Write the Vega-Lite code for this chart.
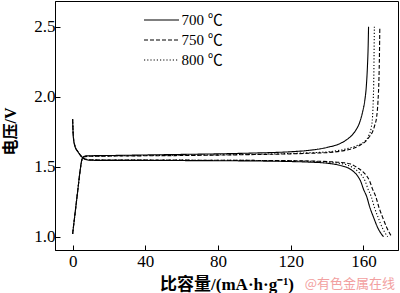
{
"$schema": "https://vega.github.io/schema/vega-lite/v6.json",
"width": 343,
"height": 249,
"autosize": {"type": "none"},
"padding": {"left": 55, "top": 1, "right": 2, "bottom": 43},
"background": "white",
"config": {
  "view": {"stroke": "#000", "strokeWidth": 1},
  "font": "Liberation Serif",
  "axis": {"grid": false, "domainColor": "#000", "tickColor": "#000", "tickSize": -5, "labelColor": "#000", "labelFont": "Liberation Serif", "labelFontSize": 17, "titleColor": "#000", "titleFont": "Liberation Serif, Noto Sans CJK SC", "titleFontSize": 17, "titleFontWeight": "bold"}
},
"title": {"text": "@有色金属在线", "orient": "bottom", "anchor": "end", "frame": "group", "color": "#f2a0a0", "fontSize": 13, "font": "Noto Sans CJK SC", "fontWeight": "normal", "offset": -14, "dx": -3},
"data": {"values": [
{"t":"700 ℃","c":"charge","x":0,"y":1.02},{"t":"700 ℃","c":"charge","x":1,"y":1.13},{"t":"700 ℃","c":"charge","x":2,"y":1.24},{"t":"700 ℃","c":"charge","x":3,"y":1.35},{"t":"700 ℃","c":"charge","x":4,"y":1.46},{"t":"700 ℃","c":"charge","x":5,"y":1.545},{"t":"700 ℃","c":"charge","x":6,"y":1.572},{"t":"700 ℃","c":"charge","x":8,"y":1.578},{"t":"700 ℃","c":"charge","x":20,"y":1.58},{"t":"700 ℃","c":"charge","x":40,"y":1.584},{"t":"700 ℃","c":"charge","x":60,"y":1.588},{"t":"700 ℃","c":"charge","x":80,"y":1.592},{"t":"700 ℃","c":"charge","x":100,"y":1.598},{"t":"700 ℃","c":"charge","x":120,"y":1.607},{"t":"700 ℃","c":"charge","x":130,"y":1.617},{"t":"700 ℃","c":"charge","x":140,"y":1.638},{"t":"700 ℃","c":"charge","x":147,"y":1.665},{"t":"700 ℃","c":"charge","x":151,"y":1.695},{"t":"700 ℃","c":"charge","x":154,"y":1.73},{"t":"700 ℃","c":"charge","x":156,"y":1.765},{"t":"700 ℃","c":"charge","x":158,"y":1.82},{"t":"700 ℃","c":"charge","x":159.5,"y":1.89},{"t":"700 ℃","c":"charge","x":160.7,"y":1.97},{"t":"700 ℃","c":"charge","x":161.6,"y":2.08},{"t":"700 ℃","c":"charge","x":162.2,"y":2.22},{"t":"700 ℃","c":"charge","x":162.6,"y":2.37},{"t":"700 ℃","c":"charge","x":162.8,"y":2.5},
{"t":"800 ℃","c":"charge","x":0,"y":1.02},{"t":"800 ℃","c":"charge","x":1,"y":1.13},{"t":"800 ℃","c":"charge","x":2,"y":1.24},{"t":"800 ℃","c":"charge","x":3,"y":1.35},{"t":"800 ℃","c":"charge","x":4,"y":1.46},{"t":"800 ℃","c":"charge","x":5,"y":1.545},{"t":"800 ℃","c":"charge","x":6,"y":1.57},{"t":"800 ℃","c":"charge","x":8,"y":1.575},{"t":"800 ℃","c":"charge","x":20,"y":1.577},{"t":"800 ℃","c":"charge","x":40,"y":1.58},{"t":"800 ℃","c":"charge","x":60,"y":1.582},{"t":"800 ℃","c":"charge","x":80,"y":1.585},{"t":"800 ℃","c":"charge","x":100,"y":1.589},{"t":"800 ℃","c":"charge","x":120,"y":1.595},{"t":"800 ℃","c":"charge","x":130,"y":1.6},{"t":"800 ℃","c":"charge","x":140,"y":1.606},{"t":"800 ℃","c":"charge","x":148,"y":1.62},{"t":"800 ℃","c":"charge","x":154,"y":1.64},{"t":"800 ℃","c":"charge","x":158,"y":1.66},{"t":"800 ℃","c":"charge","x":161,"y":1.685},{"t":"800 ℃","c":"charge","x":163,"y":1.725},{"t":"800 ℃","c":"charge","x":164.3,"y":1.78},{"t":"800 ℃","c":"charge","x":165,"y":1.86},{"t":"800 ℃","c":"charge","x":165.4,"y":1.98},{"t":"800 ℃","c":"charge","x":165.7,"y":2.15},{"t":"800 ℃","c":"charge","x":165.85,"y":2.33},{"t":"800 ℃","c":"charge","x":166,"y":2.5},
{"t":"750 ℃","c":"charge","x":0,"y":1.02},{"t":"750 ℃","c":"charge","x":1,"y":1.13},{"t":"750 ℃","c":"charge","x":2,"y":1.24},{"t":"750 ℃","c":"charge","x":3,"y":1.35},{"t":"750 ℃","c":"charge","x":4,"y":1.46},{"t":"750 ℃","c":"charge","x":5,"y":1.545},{"t":"750 ℃","c":"charge","x":6,"y":1.57},{"t":"750 ℃","c":"charge","x":8,"y":1.574},{"t":"750 ℃","c":"charge","x":20,"y":1.576},{"t":"750 ℃","c":"charge","x":40,"y":1.578},{"t":"750 ℃","c":"charge","x":60,"y":1.58},{"t":"750 ℃","c":"charge","x":80,"y":1.583},{"t":"750 ℃","c":"charge","x":100,"y":1.587},{"t":"750 ℃","c":"charge","x":120,"y":1.592},{"t":"750 ℃","c":"charge","x":130,"y":1.596},{"t":"750 ℃","c":"charge","x":140,"y":1.601},{"t":"750 ℃","c":"charge","x":148,"y":1.612},{"t":"750 ℃","c":"charge","x":154,"y":1.63},{"t":"750 ℃","c":"charge","x":158,"y":1.653},{"t":"750 ℃","c":"charge","x":161,"y":1.68},{"t":"750 ℃","c":"charge","x":163,"y":1.71},{"t":"750 ℃","c":"charge","x":165,"y":1.75},{"t":"750 ℃","c":"charge","x":166.3,"y":1.8},{"t":"750 ℃","c":"charge","x":167.3,"y":1.86},{"t":"750 ℃","c":"charge","x":168,"y":1.97},{"t":"750 ℃","c":"charge","x":168.5,"y":2.12},{"t":"750 ℃","c":"charge","x":168.8,"y":2.3},{"t":"750 ℃","c":"charge","x":169,"y":2.5},
{"t":"700 ℃","c":"discharge","x":0,"y":1.835},{"t":"700 ℃","c":"discharge","x":0.4,"y":1.71},{"t":"700 ℃","c":"discharge","x":1.3,"y":1.645},{"t":"700 ℃","c":"discharge","x":3,"y":1.605},{"t":"700 ℃","c":"discharge","x":5,"y":1.57},{"t":"700 ℃","c":"discharge","x":7,"y":1.552},{"t":"700 ℃","c":"discharge","x":10,"y":1.546},{"t":"700 ℃","c":"discharge","x":20,"y":1.545},{"t":"700 ℃","c":"discharge","x":40,"y":1.545},{"t":"700 ℃","c":"discharge","x":60,"y":1.544},{"t":"700 ℃","c":"discharge","x":80,"y":1.543},{"t":"700 ℃","c":"discharge","x":100,"y":1.541},{"t":"700 ℃","c":"discharge","x":120,"y":1.537},{"t":"700 ℃","c":"discharge","x":130,"y":1.533},{"t":"700 ℃","c":"discharge","x":140,"y":1.525},{"t":"700 ℃","c":"discharge","x":147,"y":1.51},{"t":"700 ℃","c":"discharge","x":152,"y":1.488},{"t":"700 ℃","c":"discharge","x":155,"y":1.46},{"t":"700 ℃","c":"discharge","x":157,"y":1.43},{"t":"700 ℃","c":"discharge","x":158.5,"y":1.395},{"t":"700 ℃","c":"discharge","x":160,"y":1.34},{"t":"700 ℃","c":"discharge","x":161.8,"y":1.286},{"t":"700 ℃","c":"discharge","x":163.5,"y":1.21},{"t":"700 ℃","c":"discharge","x":165.5,"y":1.14},{"t":"700 ℃","c":"discharge","x":168,"y":1.06},{"t":"700 ℃","c":"discharge","x":171,"y":1.0},
{"t":"800 ℃","c":"discharge","x":0,"y":1.84},{"t":"800 ℃","c":"discharge","x":0.4,"y":1.715},{"t":"800 ℃","c":"discharge","x":1.3,"y":1.648},{"t":"800 ℃","c":"discharge","x":3,"y":1.607},{"t":"800 ℃","c":"discharge","x":5,"y":1.572},{"t":"800 ℃","c":"discharge","x":7,"y":1.555},{"t":"800 ℃","c":"discharge","x":10,"y":1.549},{"t":"800 ℃","c":"discharge","x":20,"y":1.548},{"t":"800 ℃","c":"discharge","x":40,"y":1.548},{"t":"800 ℃","c":"discharge","x":60,"y":1.547},{"t":"800 ℃","c":"discharge","x":80,"y":1.546},{"t":"800 ℃","c":"discharge","x":100,"y":1.545},{"t":"800 ℃","c":"discharge","x":120,"y":1.542},{"t":"800 ℃","c":"discharge","x":130,"y":1.539},{"t":"800 ℃","c":"discharge","x":140,"y":1.533},{"t":"800 ℃","c":"discharge","x":147,"y":1.524},{"t":"800 ℃","c":"discharge","x":151,"y":1.513},{"t":"800 ℃","c":"discharge","x":154.5,"y":1.49},{"t":"800 ℃","c":"discharge","x":157.5,"y":1.46},{"t":"800 ℃","c":"discharge","x":159.5,"y":1.43},{"t":"800 ℃","c":"discharge","x":161,"y":1.395},{"t":"800 ℃","c":"discharge","x":162.5,"y":1.34},{"t":"800 ℃","c":"discharge","x":164.3,"y":1.286},{"t":"800 ℃","c":"discharge","x":166,"y":1.21},{"t":"800 ℃","c":"discharge","x":168,"y":1.14},{"t":"800 ℃","c":"discharge","x":170.5,"y":1.06},{"t":"800 ℃","c":"discharge","x":173.3,"y":1.0},
{"t":"750 ℃","c":"discharge","x":0,"y":1.84},{"t":"750 ℃","c":"discharge","x":0.4,"y":1.715},{"t":"750 ℃","c":"discharge","x":1.3,"y":1.648},{"t":"750 ℃","c":"discharge","x":3,"y":1.607},{"t":"750 ℃","c":"discharge","x":5,"y":1.572},{"t":"750 ℃","c":"discharge","x":7,"y":1.555},{"t":"750 ℃","c":"discharge","x":10,"y":1.549},{"t":"750 ℃","c":"discharge","x":20,"y":1.548},{"t":"750 ℃","c":"discharge","x":40,"y":1.548},{"t":"750 ℃","c":"discharge","x":60,"y":1.547},{"t":"750 ℃","c":"discharge","x":80,"y":1.546},{"t":"750 ℃","c":"discharge","x":100,"y":1.545},{"t":"750 ℃","c":"discharge","x":120,"y":1.543},{"t":"750 ℃","c":"discharge","x":130,"y":1.541},{"t":"750 ℃","c":"discharge","x":140,"y":1.537},{"t":"750 ℃","c":"discharge","x":148,"y":1.53},{"t":"750 ℃","c":"discharge","x":153,"y":1.519},{"t":"750 ℃","c":"discharge","x":157,"y":1.49},{"t":"750 ℃","c":"discharge","x":160,"y":1.46},{"t":"750 ℃","c":"discharge","x":162,"y":1.43},{"t":"750 ℃","c":"discharge","x":163.5,"y":1.395},{"t":"750 ℃","c":"discharge","x":165,"y":1.34},{"t":"750 ℃","c":"discharge","x":166.8,"y":1.286},{"t":"750 ℃","c":"discharge","x":168.5,"y":1.21},{"t":"750 ℃","c":"discharge","x":170.5,"y":1.14},{"t":"750 ℃","c":"discharge","x":173,"y":1.06},{"t":"750 ℃","c":"discharge","x":175.5,"y":1.0}
]},
"mark": {"type": "line", "strokeWidth": 1.1, "color": "#000", "interpolate": "monotone"},
"encoding": {
  "x": {"field": "x", "type": "quantitative", "scale": {"domain": [-9.7, 179], "nice": false, "zero": false}, "axis": {"values": [0, 40, 80, 120, 160], "title": "比容量/(mA·h·g⁻¹)", "titlePadding": 7, "labelPadding": 8}},
  "y": {"field": "y", "type": "quantitative", "scale": {"domain": [0.905, 2.684], "nice": false, "zero": false}, "axis": {"values": [1, 1.5, 2, 2.5], "format": ".1f", "title": "电压/V", "titleFontSize": 16, "titleX": -37, "titleY": 130, "labelPadding": 5}},
  "strokeDash": {"field": "t", "type": "nominal", "scale": {"domain": ["700 ℃", "750 ℃", "800 ℃"], "range": [[1, 0], [4, 2], [1.2, 2]]}, "legend": {"title": null, "orient": "none", "legendX": 98.5, "legendY": 11, "symbolType": "M-2.5,0H2.5", "symbolSize": 196, "symbolStrokeWidth": 1.1, "symbolStrokeColor": "#000", "symbolFillColor": "transparent", "labelFont": "Liberation Serif, Noto Sans CJK SC", "labelFontSize": 15, "labelColor": "#000", "labelOffset": 12, "rowPadding": 4, "padding": 0}},
  "detail": {"field": "c"}
}
}
